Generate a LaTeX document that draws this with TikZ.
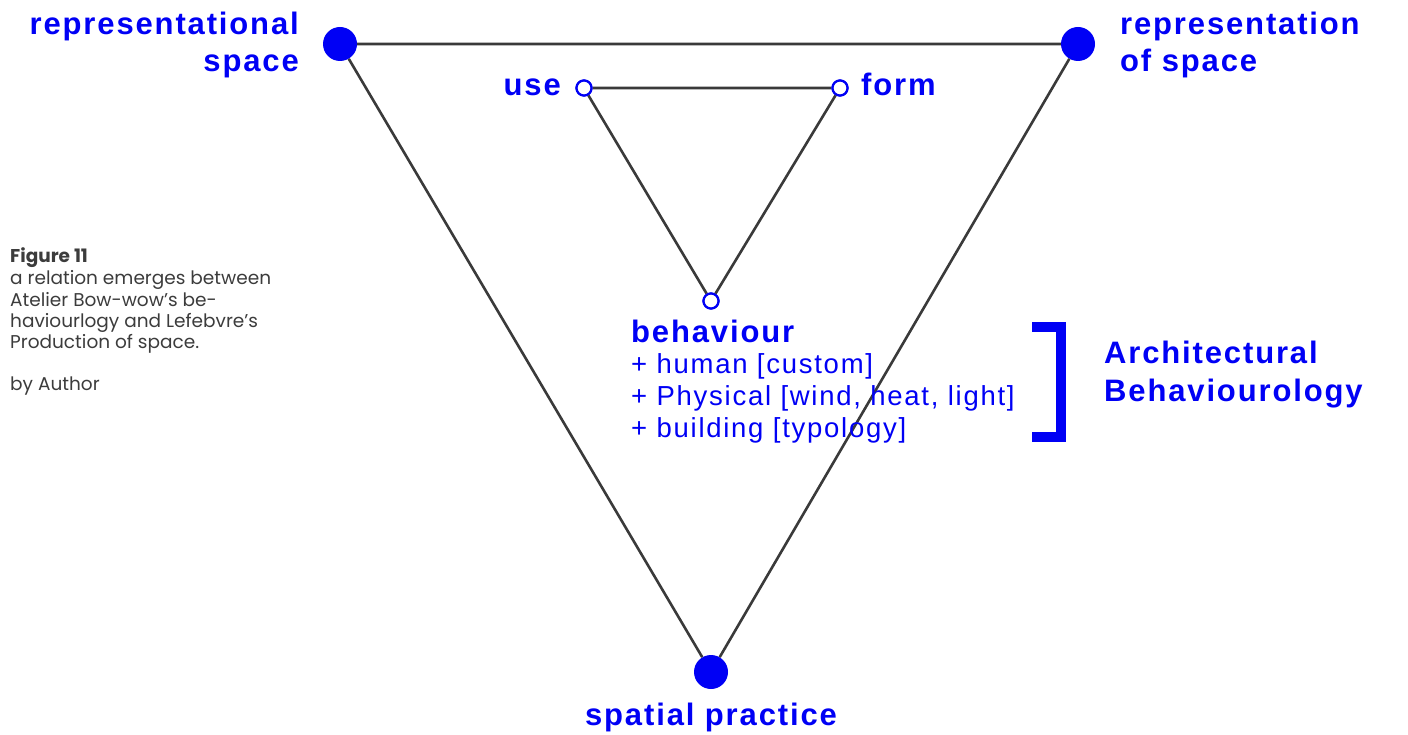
\documentclass[tikz,border=0pt]{standalone}
\usepackage{fontspec}
\setmainfont{Liberation Sans}[LetterSpace=6.3, BoldFeatures={LetterSpace=6}]
\newfontfamily\capfont{Poppins}
\definecolor{accent}{RGB}{0,0,245}
\definecolor{edge}{RGB}{58,58,58}
\definecolor{captext}{RGB}{60,60,60}
\begin{document}
\begin{tikzpicture}[x=1pt,y=-1pt,
  bigdot/.style={circle,fill=accent,minimum size=34pt,inner sep=0pt},
  smalldot/.style={circle,draw=accent,fill=white,line width=2.2pt,minimum size=15pt,inner sep=0pt},
  link/.style={draw=edge,line width=2.6pt},
  biglabel/.style={text=accent,font=\fontsize{31}{37}\selectfont\bfseries,inner sep=0pt},
  itemlabel/.style={text=accent,font=\fontsize{27.5}{32}\selectfont,inner sep=0pt,anchor=base west},
  caption/.style={text=captext,font=\capfont\fontsize{18.5}{21}\selectfont,inner sep=0pt,anchor=base west}]
\useasboundingbox (0,0) rectangle (1408,735);

% outer triangle
\node[bigdot] (rs) at (340,44) {};
\node[bigdot] (ros) at (1078,44) {};
\node[bigdot] (sp) at (711,672) {};
% inner triangle
\node[smalldot] (use) at (584,88) {};
\node[smalldot] (form) at (840,88) {};
\node[smalldot] (beh) at (711,301) {};

\path[link] (rs) -- (ros) -- (sp) -- (rs);
\path[link] (use) -- (form) -- (beh) -- (use);
% redraw the small circles above the lines
\node[smalldot] at (use) {};
\node[smalldot] at (form) {};
\node[smalldot] at (beh) {};

% corner labels
\node[biglabel,anchor=base east] (lrs1) at (299,35) {representational};
\node[biglabel,anchor=base east] (lrs2) at (299,72) {space};
\node[biglabel,anchor=base west] (lros1) at (1120,35) {representation};
\node[biglabel,anchor=base west] (lros2) at (1120,72) {of space};
\node[biglabel,anchor=base] (lsp) at (711,725) {spatial practice};
\node[biglabel,anchor=base east] (luse) at (561,96) {use};
\node[biglabel,anchor=base west] (lform) at (861,96) {form};

% behaviour block
\node[biglabel,anchor=base west] (lbeh) at (631,342) {behaviour};
\node[itemlabel] (i1) at (631,373) {+ human [custom]};
\node[itemlabel] (i2) at (631,405) {+ Physical [wind, heat, light]};
\node[itemlabel] (i3) at (631,437) {+ building [typology]};

% bracket and its label
\draw[draw=accent,line width=10pt,miter limit=10] (1032,327) -- (1061,327) -- (1061,437) -- (1032,437);
\node[biglabel,anchor=base west] (arch1) at (1104,363) {Architectural};
\node[biglabel,anchor=base west] (arch2) at (1104,401) {Behaviourology};

% figure caption
\node[caption,font=\capfont\fontsize{18.5}{21}\selectfont\bfseries] (fig) at (10,263) {Figure 11};
\node[caption] (c1) at (10,285) {a relation emerges between};
\node[caption] (c2) at (10,306) {Atelier Bow-wow’s be-};
\node[caption] (c3) at (10,327) {haviourlogy and Lefebvre’s};
\node[caption] (c4) at (10,348) {Production of space.};
\node[caption] (c5) at (10,390) {by Author};
\end{tikzpicture}
\end{document}
